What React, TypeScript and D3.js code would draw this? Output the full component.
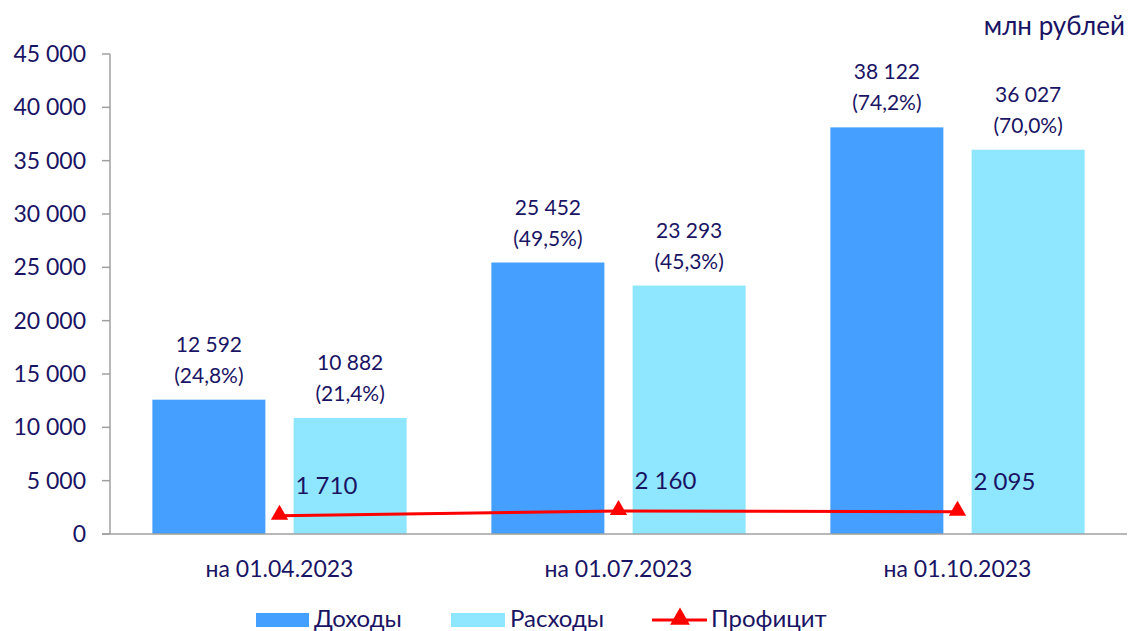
import React from "react";
import * as d3 from "d3";

// chart data
const categories = ["на 01.04.2023", "на 01.07.2023", "на 01.10.2023"];
const incomes = [12592, 25452, 38122];
const incomeShares = ["24,8%", "49,5%", "74,2%"];
const expenses = [10882, 23293, 36027];
const expenseShares = ["21,4%", "45,3%", "70,0%"];
const surplus = [1710, 2160, 2095];
const yTicks = [0, 5000, 10000, 15000, 20000, 25000, 30000, 35000, 40000, 45000];

const W = 1130;
const H = 631;
const FONT = "Lato, 'Noto Sans', sans-serif";
const TEXT = "#1a1464";
const C_INC = "#449fff";
const C_EXP = "#8ee6ff";
const C_SUR = "#ff0000";

const fmt = (v: number) => d3.format(",")(v).replace(/,/g, " ");

const App = () => {
  const x = d3.scaleBand().domain(categories).range([110, 1127]).padding(0);
  const inner = d3
    .scaleBand()
    .domain(["inc", "exp"])
    .range([0, x.bandwidth()])
    .paddingInner(0.2)
    .paddingOuter(0.3);
  const y = d3.scaleLinear().domain([0, 45000]).range([534, 54]);

  const tri = d3.symbol().type(d3.symbolTriangle).size(130)();
  const legendTri = d3.symbol().type(d3.symbolTriangle).size(170)();
  const line = d3
    .line<number>()
    .x((_, i) => x(categories[i])! + x.bandwidth() / 2)
    .y((d) => y(d));

  const series = [
    { key: "inc", values: incomes, shares: incomeShares, color: C_INC },
    { key: "exp", values: expenses, shares: expenseShares, color: C_EXP },
  ];

  return (
    <svg
      width={W}
      height={H}
      style={{ position: "absolute", left: 0, top: 0 }}
      fontFamily={FONT}
    >
      <text x={1125} y={35} textAnchor="end" fontSize={26} fill={TEXT}>
        млн рублей
      </text>

      {/* y axis */}
      <line x1={110} x2={110} y1={y(45000)} y2={y(0)} stroke="#a0a0a0" strokeWidth={1.5} />
      {yTicks.map((t) => (
        <g key={t}>
          <line x1={102} x2={110} y1={y(t)} y2={y(t)} stroke="#a0a0a0" strokeWidth={1.5} />
          <text x={86} y={y(t) + 8} textAnchor="end" fontSize={23} fill={TEXT}>
            {fmt(t)}
          </text>
        </g>
      ))}

      {/* bars */}
      {series.map((s) =>
        categories.map((c, i) => {
          const bx = x(c)! + inner(s.key)!;
          const bw = inner.bandwidth();
          const top = y(s.values[i]);
          return (
            <g key={s.key + c}>
              <rect x={bx} y={top} width={bw} height={y(0) - top} fill={s.color} />
              <text x={bx + bw / 2} y={top - 48} textAnchor="middle" fontSize={21} fill={TEXT}>
                {fmt(s.values[i])}
              </text>
              <text x={bx + bw / 2} y={top - 17} textAnchor="middle" fontSize={21} fill={TEXT}>
                ({s.shares[i]})
              </text>
            </g>
          );
        })
      )}

      {/* x axis */}
      <line x1={102} x2={1127} y1={y(0)} y2={y(0)} stroke="#a0a0a0" strokeWidth={1.5} />
      {categories.map((c) => (
        <text
          key={c}
          x={x(c)! + x.bandwidth() / 2}
          y={577}
          textAnchor="middle"
          fontSize={23}
          fill={TEXT}
        >
          {c}
        </text>
      ))}

      {/* surplus line */}
      <path d={line(surplus)!} fill="none" stroke={C_SUR} strokeWidth={3} />
      {surplus.map((v, i) => {
        const px = x(categories[i])! + x.bandwidth() / 2;
        return (
          <g key={i}>
            <path d={tri!} transform={`translate(${px},${y(v) - 1})`} fill={C_SUR} />
            <text x={px + 16} y={y(v) - 22} fontSize={24} fill={TEXT}>
              {fmt(v)}
            </text>
          </g>
        );
      })}

      {/* legend */}
      <g fontSize={24} fill={TEXT}>
        <rect x={256} y={613} width={53} height={14} fill={C_INC} />
        <text x={314} y={627}>Доходы</text>
        <rect x={451} y={613} width={54} height={14} fill={C_EXP} />
        <text x={510} y={627}>Расходы</text>
        <line x1={652} x2={707} y1={620} y2={620} stroke={C_SUR} strokeWidth={3} />
        <path d={legendTri!} transform="translate(680,619)" fill={C_SUR} />
        <text x={711} y={627}>Профицит</text>
      </g>
    </svg>
  );
};

export default App;
